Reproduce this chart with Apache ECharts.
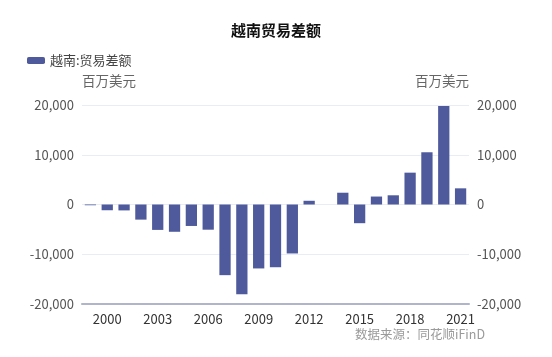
<!DOCTYPE html>
<html><head><meta charset="utf-8">
<script src="https://cdn.jsdelivr.net/npm/echarts@6/dist/echarts.min.js"></script>
<style>html,body{margin:0;padding:0;background:#fff}#c{width:552px;height:357px}</style>
</head><body><div id="c"></div>
<script>
const years = ['1999','2000','2001','2002','2003','2004','2005','2006','2007','2008','2009','2010','2011','2012','2013','2014','2015','2016','2017','2018','2019','2020','2021'];
const balance = [-150,-1154,-1189,-3040,-5106,-5484,-4314,-5065,-14203,-18029,-12853,-12609,-9844,749,null,2368,-3759,1600,1850,6400,10500,19800,3250];
const yTicks = [-20000,-10000,0,10000,20000];
const seriesName = '越南:贸易差额';
const unit = '百万美元';

const chart = echarts.init(document.getElementById('c'));
const fam = '"Noto Sans CJK SC","Noto Sans",sans-serif';
const yAxisBase = {
  type:'value', min:yTicks[0], max:yTicks[yTicks.length-1], interval:10000,
  name:unit,
  axisLine:{show:false}, axisTick:{show:false},
  axisLabel:{color:'#555', fontSize:13, fontFamily:fam, formatter:v=>v.toLocaleString('en-US')},
  splitLine:{lineStyle:{color:'#e9ebf5'}}
};
chart.setOption({
  animation:false,
  textStyle:{fontFamily:fam},
  title:{text:'越南贸易差额', left:'center', top:18, textStyle:{fontSize:15, fontWeight:'bold', color:'#111', fontFamily:fam}},
  legend:{left:22, top:49, itemWidth:18, itemHeight:7, itemGap:7, textStyle:{fontSize:13, color:'#444', fontFamily:fam}, data:[seriesName]},
  grid:{left:82, right:83, top:105, bottom:53},
  xAxis:{type:'category', data:years,
    axisLine:{onZero:false, lineStyle:{color:'#b1b5ca', width:2}},
    axisTick:{show:false},
    axisLabel:{color:'#333', fontSize:13, fontFamily:fam, margin:9, interval:(i)=>(i-1)%3===0}
  },
  yAxis:[
    Object.assign({}, yAxisBase, {position:'left', nameGap:17, nameTextStyle:{color:'#666', fontSize:13.5, fontFamily:fam, align:'left'}}),
    Object.assign({}, yAxisBase, {position:'right', nameGap:17, nameTextStyle:{color:'#666', fontSize:13.5, fontFamily:fam, align:'right'}})
  ],
  series:[{name:seriesName, type:'bar', data:balance, barWidth:'67%', itemStyle:{color:'#4e5a9b'}}],
  graphic:[{type:'text', left:355, top:328, style:{text:'数据来源：同花顺iFinD', fill:'#9a9a9a', fontSize:12.5, fontFamily:fam}}]
});
</script></body></html>
